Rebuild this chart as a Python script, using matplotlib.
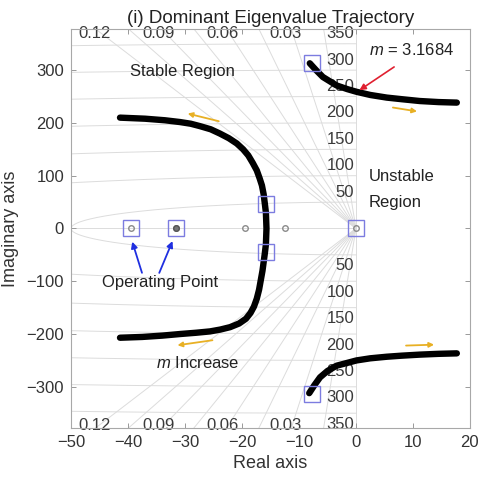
import numpy as np
import matplotlib
matplotlib.use("Agg")
import matplotlib.pyplot as plt

plt.rcParams['font.family'] = ['Liberation Sans', 'DejaVu Sans']
plt.rcParams['mathtext.fontset'] = 'custom'
plt.rcParams['mathtext.rm'] = 'Liberation Sans'
plt.rcParams['mathtext.it'] = 'Liberation Sans:italic'

# ---------------- data ----------------
# main (left) branch of the dominant eigenvalue trajectory
left_re = [-41.4, -37.0, -33.5, -30.9, -29.0, -27.4, -25.5, -23.9, -22.3, -20.9, -19.8,
           -18.9, -18.1, -17.4, -16.9, -16.5, -16.2, -16.0, -15.8, -15.7,
           -15.8, -16.0, -16.2, -16.4, -16.7, -17.0, -17.4, -17.9, -18.5, -19.3,
           -20.5, -22.1, -23.8, -25.6, -28.0, -30.9, -34.0, -37.5, -41.4]
left_im = [210, 208, 205, 201.7, 198.5, 194, 188, 180, 171, 161, 150,
           138.5, 124, 110, 95, 81.6, 65, 48, 30, 0,
           -30, -48, -64, -80, -98, -116, -133, -148, -160, -171,
           -180, -187, -191.5, -195, -197.5, -200, -203, -205.5, -207]
# upper right branch
ur_re = [-8.1, -7.0, -5.8, -3.4, -1.5, 0.1, 2.5, 5.4, 8.0, 11.2, 14.5, 17.7]
ur_im = [313, 300, 287, 271, 264, 259, 253, 248, 245, 241.5, 239.5, 238.5]
# lower right branch
lr_re = [-8.2, -7.3, -6.3, -5.0, -3.4, 0.1, 2.5, 5.4, 8.0, 11.2, 14.5, 17.7]
lr_im = [-312, -297, -282, -270, -260, -250, -246, -243, -241, -239, -237.5, -236.6]

# highlighted eigenvalues (blue squares)
sq_re = [-39.5, -31.6, -15.8, -15.8, 0.0, -7.8, -7.8]
sq_im = [0, 0, 47, -45, 0, 313, -314]
# small real-axis eigenvalues (grey circles)
circ_re = [-39.5, -31.6, -19.4, -12.5, 0.0]
circ_im = [0, 0, 0, 0, 0]

# grid (sgrid) values
zeta_vals = [0.015, 0.03, 0.045, 0.06, 0.075, 0.09, 0.105, 0.12]
zeta_labels = ['0.12', '0.09', '0.06', '0.03']
wn_vals = [50, 100, 150, 200, 250, 300, 350]

xticks = [-50, -40, -30, -20, -10, 0, 10, 20]
yticks = [-300, -200, -100, 0, 100, 200, 300]

# ---------------- figure ----------------
fig = plt.figure(figsize=(4.81, 4.79), dpi=100)
ax = fig.add_axes([0.1476, 0.1065, 0.8294, 0.833])
xmin, xmax, ymin, ymax = -50, 20, -378, 378
ax.set_xlim(xmin, xmax)
ax.set_ylim(ymin, ymax)

gcol = '#dcdcdc'
# natural frequency circles (left half plane)
for wn in wn_vals:
    th = np.linspace(np.pi / 2, 3 * np.pi / 2, 400)
    ax.plot(wn * np.cos(th), wn * np.sin(th), color=gcol, lw=0.7, zorder=1)
# damping lines
R = 1000
for z in zeta_vals:
    s = np.sqrt(1 - z ** 2)
    ax.plot([0, -z * R], [0, s * R], color=gcol, lw=0.7, zorder=1)
    ax.plot([0, -z * R], [0, -s * R], color=gcol, lw=0.7, zorder=1)
ax.plot([0, 0], [ymin, ymax], color=gcol, lw=0.7, zorder=1)
ax.plot([xmin, 0], [0, 0], color=gcol, lw=0.7, zorder=1)

lab_col = '#3a3a3a'
for lab in zeta_labels:
    z = float(lab)
    xx = -z / np.sqrt(1 - z ** 2) * 370 - 1.2
    ax.text(xx, 369, lab, ha='center', va='center', fontsize=12, color=lab_col, zorder=2)
    ax.text(xx, -373, lab, ha='center', va='center', fontsize=12, color=lab_col, zorder=2)
for wn in wn_vals:
    ax.text(-0.3, wn + 19, str(wn), ha='right', va='center', fontsize=12, color=lab_col, zorder=2)
    ax.text(-0.3, -wn - 21, str(wn), ha='right', va='center', fontsize=12, color=lab_col, zorder=2)

# trajectories
for xr, yr in [(left_re, left_im), (ur_re, ur_im), (lr_re, lr_im)]:
    ax.plot(xr, yr, color='black', lw=4.6, solid_capstyle='round', solid_joinstyle='round', zorder=4)

# markers
ax.plot(sq_re, sq_im, ls='none', marker='s', ms=11, mfc='none', mec='#7c7ce0', mew=1.0, zorder=5)
ax.plot(circ_re, circ_im, ls='none', marker='o', ms=4, mfc='none', mec='#8a8a8a', mew=1.0, zorder=5)
ax.plot([-31.6], [0], ls='none', marker='o', ms=4, mfc='#777777', mec='#555555', mew=1.0, zorder=5)

# orange direction arrows
oc = '#e8b024'
for (x0, y0, x1, y1) in [(-23.6, 202, -30.0, 219), (-24.7, -211, -31.8, -222),
                         (6.0, 230, 11.2, 221), (8.3, -222, 14.2, -220)]:
    ax.annotate('', xy=(x1, y1), xytext=(x0, y0),
                arrowprops=dict(arrowstyle='-|>', color=oc, lw=1.3, mutation_scale=7), zorder=6)

# red arrow and text
ax.annotate('', xy=(0.2, 259), xytext=(7.1, 309),
            arrowprops=dict(arrowstyle='-|>', color='#e02030', lw=1.2, mutation_scale=9), zorder=6)
ax.text(9.8, 338, r'$m$ = 3.1684', ha='center', va='center', fontsize=12, color='#222222', zorder=6)

# blue arrows to operating points
for (x0, y0, x1, y1) in [(-37.4, -89, -39.4, -20), (-34.7, -89, -32.0, -19)]:
    ax.annotate('', xy=(x1, y1), xytext=(x0, y0),
                arrowprops=dict(arrowstyle='-|>', color='#1f2fe0', lw=1.3, mutation_scale=9), zorder=6)
ax.text(-34.4, -102, 'Operating Point', ha='center', va='center', fontsize=12, color='#222222', zorder=6)

ax.text(-30.5, 298, 'Stable Region', ha='center', va='center', fontsize=12, color='#222222', zorder=6)
ax.text(2.2, 99, 'Unstable', ha='left', va='center', fontsize=12, color='#222222', zorder=6)
ax.text(2.2, 50, 'Region', ha='left', va='center', fontsize=12, color='#222222', zorder=6)
ax.text(-27.7, -254, r'$m$ Increase', ha='center', va='center', fontsize=12, color='#222222', zorder=6)

# axes styling
ax.set_xticks(xticks)
ax.set_yticks(yticks)
ax.tick_params(direction='in', length=3.5, width=0.7, colors='#999999', labelcolor='#333333',
               labelsize=12, top=True, right=True, pad=5)
for sp in ax.spines.values():
    sp.set_color('#a8a8a8')
    sp.set_linewidth(0.8)
ax.set_xlabel('Real axis', fontsize=13, color='#333333', labelpad=4)
ax.set_ylabel('Imaginary axis', fontsize=13, color='#333333', labelpad=5)
ax.set_title('(i) Dominant Eigenvalue Trajectory', fontsize=13.5, color='#222222', pad=4)

fig.savefig('out.png', dpi=100)
